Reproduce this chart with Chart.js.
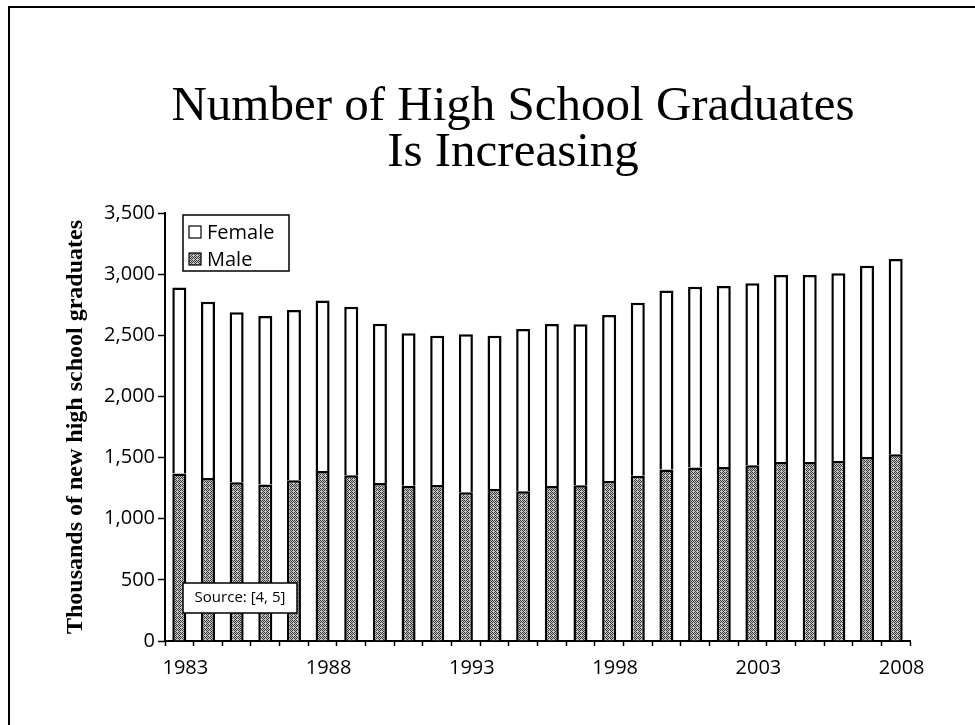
<!DOCTYPE html>
<html>
<head>
<meta charset="utf-8">
<title>High School Graduates</title>
<script src="https://cdn.jsdelivr.net/npm/chart.js@4.4.0/dist/chart.umd.min.js"></script>
<style>
    html, body { margin: 0; padding: 0; background: #fff; overflow: hidden; }
    #frame {
        position: absolute; left: 8px; top: 6px; width: 975px; height: 725px;
        border-top: 2px solid #000; border-left: 2px solid #000;
    }
    #title {
        position: absolute; left: 51px; width: 924px; top: 81px; margin: 0;
        text-align: center; color: #000;
        font: normal 49px/46px "Liberation Serif", "Times New Roman", serif;
    }
    #wrap { position: absolute; left: 0; top: 0; width: 975px; height: 725px; }
</style>
</head>
<body>
<div id="frame"></div>
<h1 id="title">Number of High School Graduates<br>Is Increasing</h1>
<div id="wrap"><canvas id="gradChart"></canvas></div>

<script>
// Данные: выпускники школ (тыс.), по годам
const years = ['1983', '1984', '1985', '1986', '1987', '1988', '1989', '1990', '1991', '1992',
               '1993', '1994', '1995', '1996', '1997', '1998', '1999', '2000', '2001', '2002',
               '2003', '2004', '2005', '2006', '2007', '2008'];
const maleValues = [1369, 1333, 1298, 1279, 1314, 1390, 1355, 1292, 1270, 1275,
                    1216, 1243, 1224, 1267, 1273, 1308, 1352, 1402, 1418, 1423,
                    1437, 1464, 1464, 1472, 1505, 1527];
const femaleValues = [1521, 1442, 1391, 1379, 1393, 1394, 1379, 1303, 1246, 1222,
                      1292, 1254, 1328, 1326, 1317, 1358, 1415, 1464, 1478, 1481,
                      1489, 1528, 1530, 1536, 1563, 1596];
const labeledYears = ['1983', '1988', '1993', '1998', '2003', '2008'];

const TICK_FONT = { family: '"Open Sans", sans-serif', size: 20 };

// Серая "растровая" заливка для мужских столбиков
function makeDotPattern() {
    const tile = document.createElement('canvas');
    tile.width = 4;
    tile.height = 4;
    const t = tile.getContext('2d');
    t.fillStyle = '#c4c4c4';
    t.fillRect(0, 0, 4, 4);
    t.fillStyle = '#3a3a3a';
    [[0, 0], [2, 0], [1, 1], [3, 1], [0, 2], [2, 2], [3, 3]].forEach(([x, y]) => t.fillRect(x, y, 1, 1));
    return t.createPattern(tile, 'repeat');
}

const malePattern = makeDotPattern();

// Легенда в рамке внутри области графика
const boxLegend = {
    id: 'boxLegend',
    afterDatasetsDraw(chart) {
        const { ctx, chartArea } = chart;
        const left = chartArea.left + 18;
        const top = chartArea.top + 2;
        const items = [
            { text: 'Female', fill: '#fff' },
            { text: 'Male', fill: malePattern }
        ];
        ctx.save();
        ctx.fillStyle = '#fff';
        ctx.fillRect(left, top, 106, 56);
        ctx.strokeStyle = '#000';
        ctx.lineWidth = 1.5;
        ctx.strokeRect(left, top, 106, 56);
        ctx.font = '20px "Open Sans", sans-serif';
        ctx.textBaseline = 'middle';
        items.forEach((item, i) => {
            const cy = top + 17 + i * 27;
            ctx.fillStyle = item.fill;
            ctx.fillRect(left + 6, cy - 6, 12, 12);
            ctx.lineWidth = 1.2;
            ctx.strokeRect(left + 6, cy - 6, 12, 12);
            ctx.fillStyle = '#000';
            ctx.fillText(item.text, left + 24, cy + 1);
        });
        ctx.restore();
    }
};

// Подпись источника внизу слева
const sourceNote = {
    id: 'sourceNote',
    afterDatasetsDraw(chart) {
        const { ctx, chartArea } = chart;
        const left = chartArea.left + 18;
        const top = chartArea.bottom - 58;
        ctx.save();
        ctx.fillStyle = '#fff';
        ctx.fillRect(left, top, 114, 30);
        ctx.strokeStyle = '#000';
        ctx.lineWidth = 1.5;
        ctx.strokeRect(left, top, 114, 30);
        ctx.fillStyle = '#000';
        ctx.font = '15px "Open Sans", sans-serif';
        ctx.textAlign = 'center';
        ctx.textBaseline = 'middle';
        ctx.fillText('Source: [4, 5]', left + 57, top + 15);
        ctx.restore();
    }
};

const ctx = document.getElementById('gradChart').getContext('2d');
new Chart(ctx, {
    type: 'bar',
    data: {
        labels: years,
        datasets: [
            {
                label: 'Male',
                data: maleValues,
                backgroundColor: malePattern,
                borderColor: '#000',
                borderWidth: 2.5
            },
            {
                label: 'Female',
                data: femaleValues,
                backgroundColor: '#fff',
                borderColor: '#000',
                borderWidth: 2.5
            }
        ]
    },
    options: {
        responsive: true,
        maintainAspectRatio: false,
        animation: false,
        datasets: {
            bar: { barPercentage: 0.49, categoryPercentage: 1.0 }
        },
        layout: { padding: { top: 213, left: 10, right: 65, bottom: 44 } },
        scales: {
            x: {
                stacked: true,
                afterFit: scale => { scale.height = 40; },
                border: { display: true, color: '#000', width: 2 },
                grid: {
                    drawOnChartArea: false,
                    drawTicks: true,
                    tickLength: 5,
                    tickColor: '#000',
                    tickWidth: 1.5
                },
                ticks: {
                    autoSkip: false,
                    maxRotation: 0,
                    padding: 10,
                    labelOffset: 6,
                    color: '#000',
                    font: TICK_FONT,
                    callback: (value, i) => labeledYears.includes(years[i]) ? years[i] : ''
                }
            },
            y: {
                stacked: true,
                min: 0,
                max: 3500,
                afterFit: scale => { scale.width = 155; },
                border: { display: true, color: '#000', width: 2 },
                grid: {
                    drawOnChartArea: false,
                    drawTicks: true,
                    tickLength: 7,
                    tickColor: '#000',
                    tickWidth: 1.5
                },
                ticks: {
                    stepSize: 500,
                    padding: 3,
                    color: '#000',
                    font: TICK_FONT,
                    callback: value => value.toLocaleString('en-US')
                },
                title: {
                    display: true,
                    text: 'Thousands of new high school graduates',
                    color: '#000',
                    padding: { top: 51, bottom: 0 },
                    font: { family: '"Liberation Serif", "Times New Roman", serif', size: 24, weight: 'bold' }
                }
            }
        },
        plugins: {
            legend: { display: false },
            tooltip: { enabled: false },
            title: { display: false }
        }
    },
    plugins: [boxLegend, sourceNote]
});
</script>
</body>
</html>
